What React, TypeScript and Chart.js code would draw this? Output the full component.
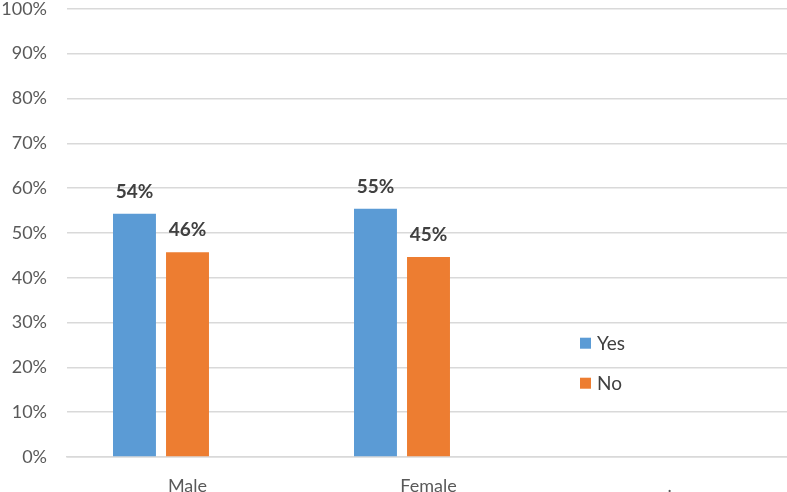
import React, { useEffect, useRef } from "react";
import { Chart, registerables } from "chart.js";

Chart.register(...registerables);

const categories = ["Male", "Female", "."];
const yesValues = [54.3, 55.4, null];
const noValues = [45.7, 44.6, null];
const blankValues = [null, null, null];
const yTicks = [0, 10, 20, 30, 40, 50, 60, 70, 80, 90, 100];

const FONT = "Lato, 'Open Sans', sans-serif";

const valueLabels = {
  id: "valueLabels",
  afterDatasetsDraw(chart: any) {
    const ctx = chart.ctx;
    ctx.save();
    ctx.font = `bold 19px ${FONT}`;
    ctx.fillStyle = "#404040";
    ctx.textAlign = "center";
    ctx.textBaseline = "alphabetic";
    chart.data.datasets.forEach((ds: any, i: number) => {
      const meta = chart.getDatasetMeta(i);
      meta.data.forEach((bar: any, j: number) => {
        const v = ds.data[j];
        if (v == null) return;
        ctx.fillText(Math.round(v) + "%", bar.x, bar.y - 16);
      });
    });
    ctx.restore();
  },
};

const sideLegend = {
  id: "sideLegend",
  afterDraw(chart: any) {
    const ctx = chart.ctx;
    const y = chart.scales.y;
    ctx.save();
    ctx.font = `19px ${FONT}`;
    ctx.textBaseline = "middle";
    ctx.textAlign = "left";
    const items = chart.data.datasets.filter((d: any) => d.label);
    const top = y.getPixelForValue(25.5);
    items.forEach((ds: any, i: number) => {
      const cy = top + i * 40;
      ctx.fillStyle = ds.backgroundColor;
      ctx.fillRect(580, cy - 5, 11, 11);
      ctx.fillStyle = "#404040";
      ctx.fillText(ds.label, 597, cy + 1);
    });
    ctx.restore();
  },
};

export default function App() {
  const ref = useRef<HTMLCanvasElement>(null);
  useEffect(() => {
    if (!ref.current) return;
    const chart = new Chart(ref.current, {
      type: "bar",
      data: {
        labels: categories,
        datasets: [
          { label: "Yes", data: yesValues, backgroundColor: "#5B9BD5" },
          { label: "No", data: noValues, backgroundColor: "#ED7D31" },
          { label: "", data: blankValues, backgroundColor: "#A5A5A5" },
        ],
      },
      options: {
        responsive: false,
        animation: false,
        layout: { autoPadding: false, padding: { top: 8, right: 2, left: 0, bottom: 0 } },
        datasets: {
          bar: { categoryPercentage: 0.66, barPercentage: 0.81 },
        },
        plugins: {
          legend: { display: false },
          tooltip: { enabled: false },
        },
        scales: {
          x: {
            grid: { display: false, drawTicks: false },
            border: { display: true, color: "#d9d9d9", width: 1.5 },
            ticks: {
              color: "#595959",
              font: { family: FONT, size: 18 },
              padding: 18,
            },
            afterFit(scale: any) {
              scale.height = 35;
            },
          },
          y: {
            min: 0,
            max: 100,
            afterBuildTicks(scale: any) {
              scale.ticks = yTicks.map((v) => ({ value: v }));
            },
            grid: { color: "#d9d9d9", lineWidth: 1.5, drawTicks: false },
            border: { display: false },
            ticks: {
              color: "#595959",
              font: { family: FONT, size: 18 },
              padding: 20,
              callback: (v: any) => v + "%",
            },
            afterFit(scale: any) {
              scale.width = 67;
            },
          },
        },
      },
      plugins: [valueLabels, sideLegend],
    });
    return () => chart.destroy();
  }, []);
  return (
    <div
      style={{
        position: "absolute",
        left: 0,
        top: 0,
        width: 787,
        height: 492,
        overflow: "hidden",
        background: "#fff",
      }}
    >
      <canvas
        ref={ref}
        width={792}
        height={514}
        style={{ display: "block", position: "absolute", left: 0, top: -22 }}
      />
    </div>
  );
}
